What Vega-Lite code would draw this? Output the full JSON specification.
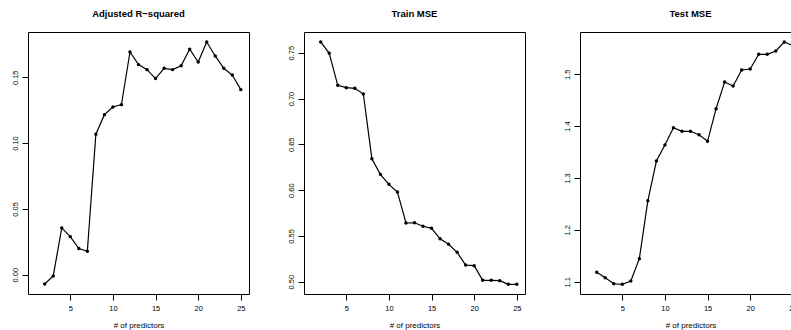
{
  "$schema": "https://vega.github.io/schema/vega-lite/v6.json",
  "background": "white",
  "padding": {"left": 10, "top": 8, "right": 0, "bottom": 0},
  "spacing": 55,
  "bounds": "flush",
  "datasets": {
    "adjr2": [
      {"n": 2, "value": -0.0071}, {"n": 3, "value": -0.0010}, {"n": 4, "value": 0.0355}, {"n": 5, "value": 0.0289},
      {"n": 6, "value": 0.0198}, {"n": 7, "value": 0.0178}, {"n": 8, "value": 0.1067}, {"n": 9, "value": 0.1216},
      {"n": 10, "value": 0.1274}, {"n": 11, "value": 0.1292}, {"n": 12, "value": 0.1692}, {"n": 13, "value": 0.1596},
      {"n": 14, "value": 0.1558}, {"n": 15, "value": 0.1490}, {"n": 16, "value": 0.1568}, {"n": 17, "value": 0.1558},
      {"n": 18, "value": 0.1588}, {"n": 19, "value": 0.1713}, {"n": 20, "value": 0.1616}, {"n": 21, "value": 0.1768},
      {"n": 22, "value": 0.1662}, {"n": 23, "value": 0.1568}, {"n": 24, "value": 0.1517}, {"n": 25, "value": 0.1406}
    ],
    "train": [
      {"n": 2, "value": 0.7617}, {"n": 3, "value": 0.7493}, {"n": 4, "value": 0.7144}, {"n": 5, "value": 0.7118},
      {"n": 6, "value": 0.7111}, {"n": 7, "value": 0.7049}, {"n": 8, "value": 0.6343}, {"n": 9, "value": 0.6172},
      {"n": 10, "value": 0.6063}, {"n": 11, "value": 0.5979}, {"n": 12, "value": 0.5641}, {"n": 13, "value": 0.5644},
      {"n": 14, "value": 0.5605}, {"n": 15, "value": 0.5583}, {"n": 16, "value": 0.5469}, {"n": 17, "value": 0.5408},
      {"n": 18, "value": 0.5321}, {"n": 19, "value": 0.5182}, {"n": 20, "value": 0.5175}, {"n": 21, "value": 0.5015},
      {"n": 22, "value": 0.5015}, {"n": 23, "value": 0.5011}, {"n": 24, "value": 0.4972}, {"n": 25, "value": 0.4972}
    ],
    "test": [
      {"n": 2, "value": 1.1181}, {"n": 3, "value": 1.1077}, {"n": 4, "value": 1.0961}, {"n": 5, "value": 1.0950},
      {"n": 6, "value": 1.1013}, {"n": 7, "value": 1.1444}, {"n": 8, "value": 1.2562}, {"n": 9, "value": 1.3328},
      {"n": 10, "value": 1.3636}, {"n": 11, "value": 1.3970}, {"n": 12, "value": 1.3901}, {"n": 13, "value": 1.3901},
      {"n": 14, "value": 1.3835}, {"n": 15, "value": 1.3708}, {"n": 16, "value": 1.4337}, {"n": 17, "value": 1.4852},
      {"n": 18, "value": 1.4774}, {"n": 19, "value": 1.5083}, {"n": 20, "value": 1.5102}, {"n": 21, "value": 1.5386},
      {"n": 22, "value": 1.5386}, {"n": 23, "value": 1.5449}, {"n": 24, "value": 1.5623}, {"n": 25, "value": 1.5552}
    ]
  },
  "hconcat": [
    {
      "title": "Adjusted R\u2212squared",
      "width": 221, "height": 262,
      "data": {"name": "adjr2"},
      "encoding": {
        "x": {"field": "n", "type": "quantitative", "scale": {"domain": [0.04, 25.96], "nice": false, "zero": false},
              "axis": {"values": [5, 10, 15, 20, 25], "title": "# of predictors"}},
        "y": {"field": "value", "type": "quantitative", "scale": {"domain": [-0.0147, 0.1844], "nice": false, "zero": false},
              "axis": {"values": [0, 0.05, 0.1, 0.15], "format": ".2f", "title": null}}
      },
      "layer": [
        {"mark": {"type": "line", "color": "black", "strokeWidth": 1.2}},
        {"mark": {"type": "circle", "color": "black", "opacity": 1, "size": 12}}
      ]
    },
    {
      "title": "Train MSE",
      "width": 221, "height": 262,
      "data": {"name": "train"},
      "encoding": {
        "x": {"field": "n", "type": "quantitative", "scale": {"domain": [0.04, 25.96], "nice": false, "zero": false},
              "axis": {"values": [5, 10, 15, 20, 25], "title": "# of predictors"}},
        "y": {"field": "value", "type": "quantitative", "scale": {"domain": [0.4866, 0.7726], "nice": false, "zero": false},
              "axis": {"values": [0.5, 0.55, 0.6, 0.65, 0.7, 0.75], "format": ".2f", "title": null}}
      },
      "layer": [
        {"mark": {"type": "line", "color": "black", "strokeWidth": 1.2}},
        {"mark": {"type": "circle", "color": "black", "opacity": 1, "size": 12}}
      ]
    },
    {
      "title": "Test MSE",
      "width": 221, "height": 262,
      "data": {"name": "test"},
      "encoding": {
        "x": {"field": "n", "type": "quantitative", "scale": {"domain": [0.04, 25.96], "nice": false, "zero": false},
              "axis": {"values": [5, 10, 15, 20, 25], "title": "# of predictors"}},
        "y": {"field": "value", "type": "quantitative", "scale": {"domain": [1.0763, 1.5816], "nice": false, "zero": false},
              "axis": {"values": [1.1, 1.2, 1.3, 1.4, 1.5], "format": ".1f", "title": null}}
      },
      "layer": [
        {"mark": {"type": "line", "color": "black", "strokeWidth": 1.2}},
        {"mark": {"type": "circle", "color": "black", "opacity": 1, "size": 12}}
      ]
    }
  ],
  "config": {
    "font": "Liberation Sans",
    "view": {"stroke": "black", "strokeWidth": 1},
    "axis": {
      "grid": false, "domain": false, "tickColor": "black", "tickSize": 6, "tickWidth": 1,
      "labelFont": "Liberation Sans", "labelFontSize": 7.5, "labelColor": "black",
      "titleFont": "Liberation Sans", "titleFontSize": 8, "titleFontWeight": "normal", "titleColor": "black"
    },
    "axisX": {"labelPadding": 4, "titlePadding": 10},
    "axisY": {"labelAngle": -90, "labelPadding": 3},
    "title": {"font": "Liberation Sans", "fontSize": 9.5, "fontWeight": "bold", "color": "black", "offset": 14, "anchor": "middle"}
  }
}
